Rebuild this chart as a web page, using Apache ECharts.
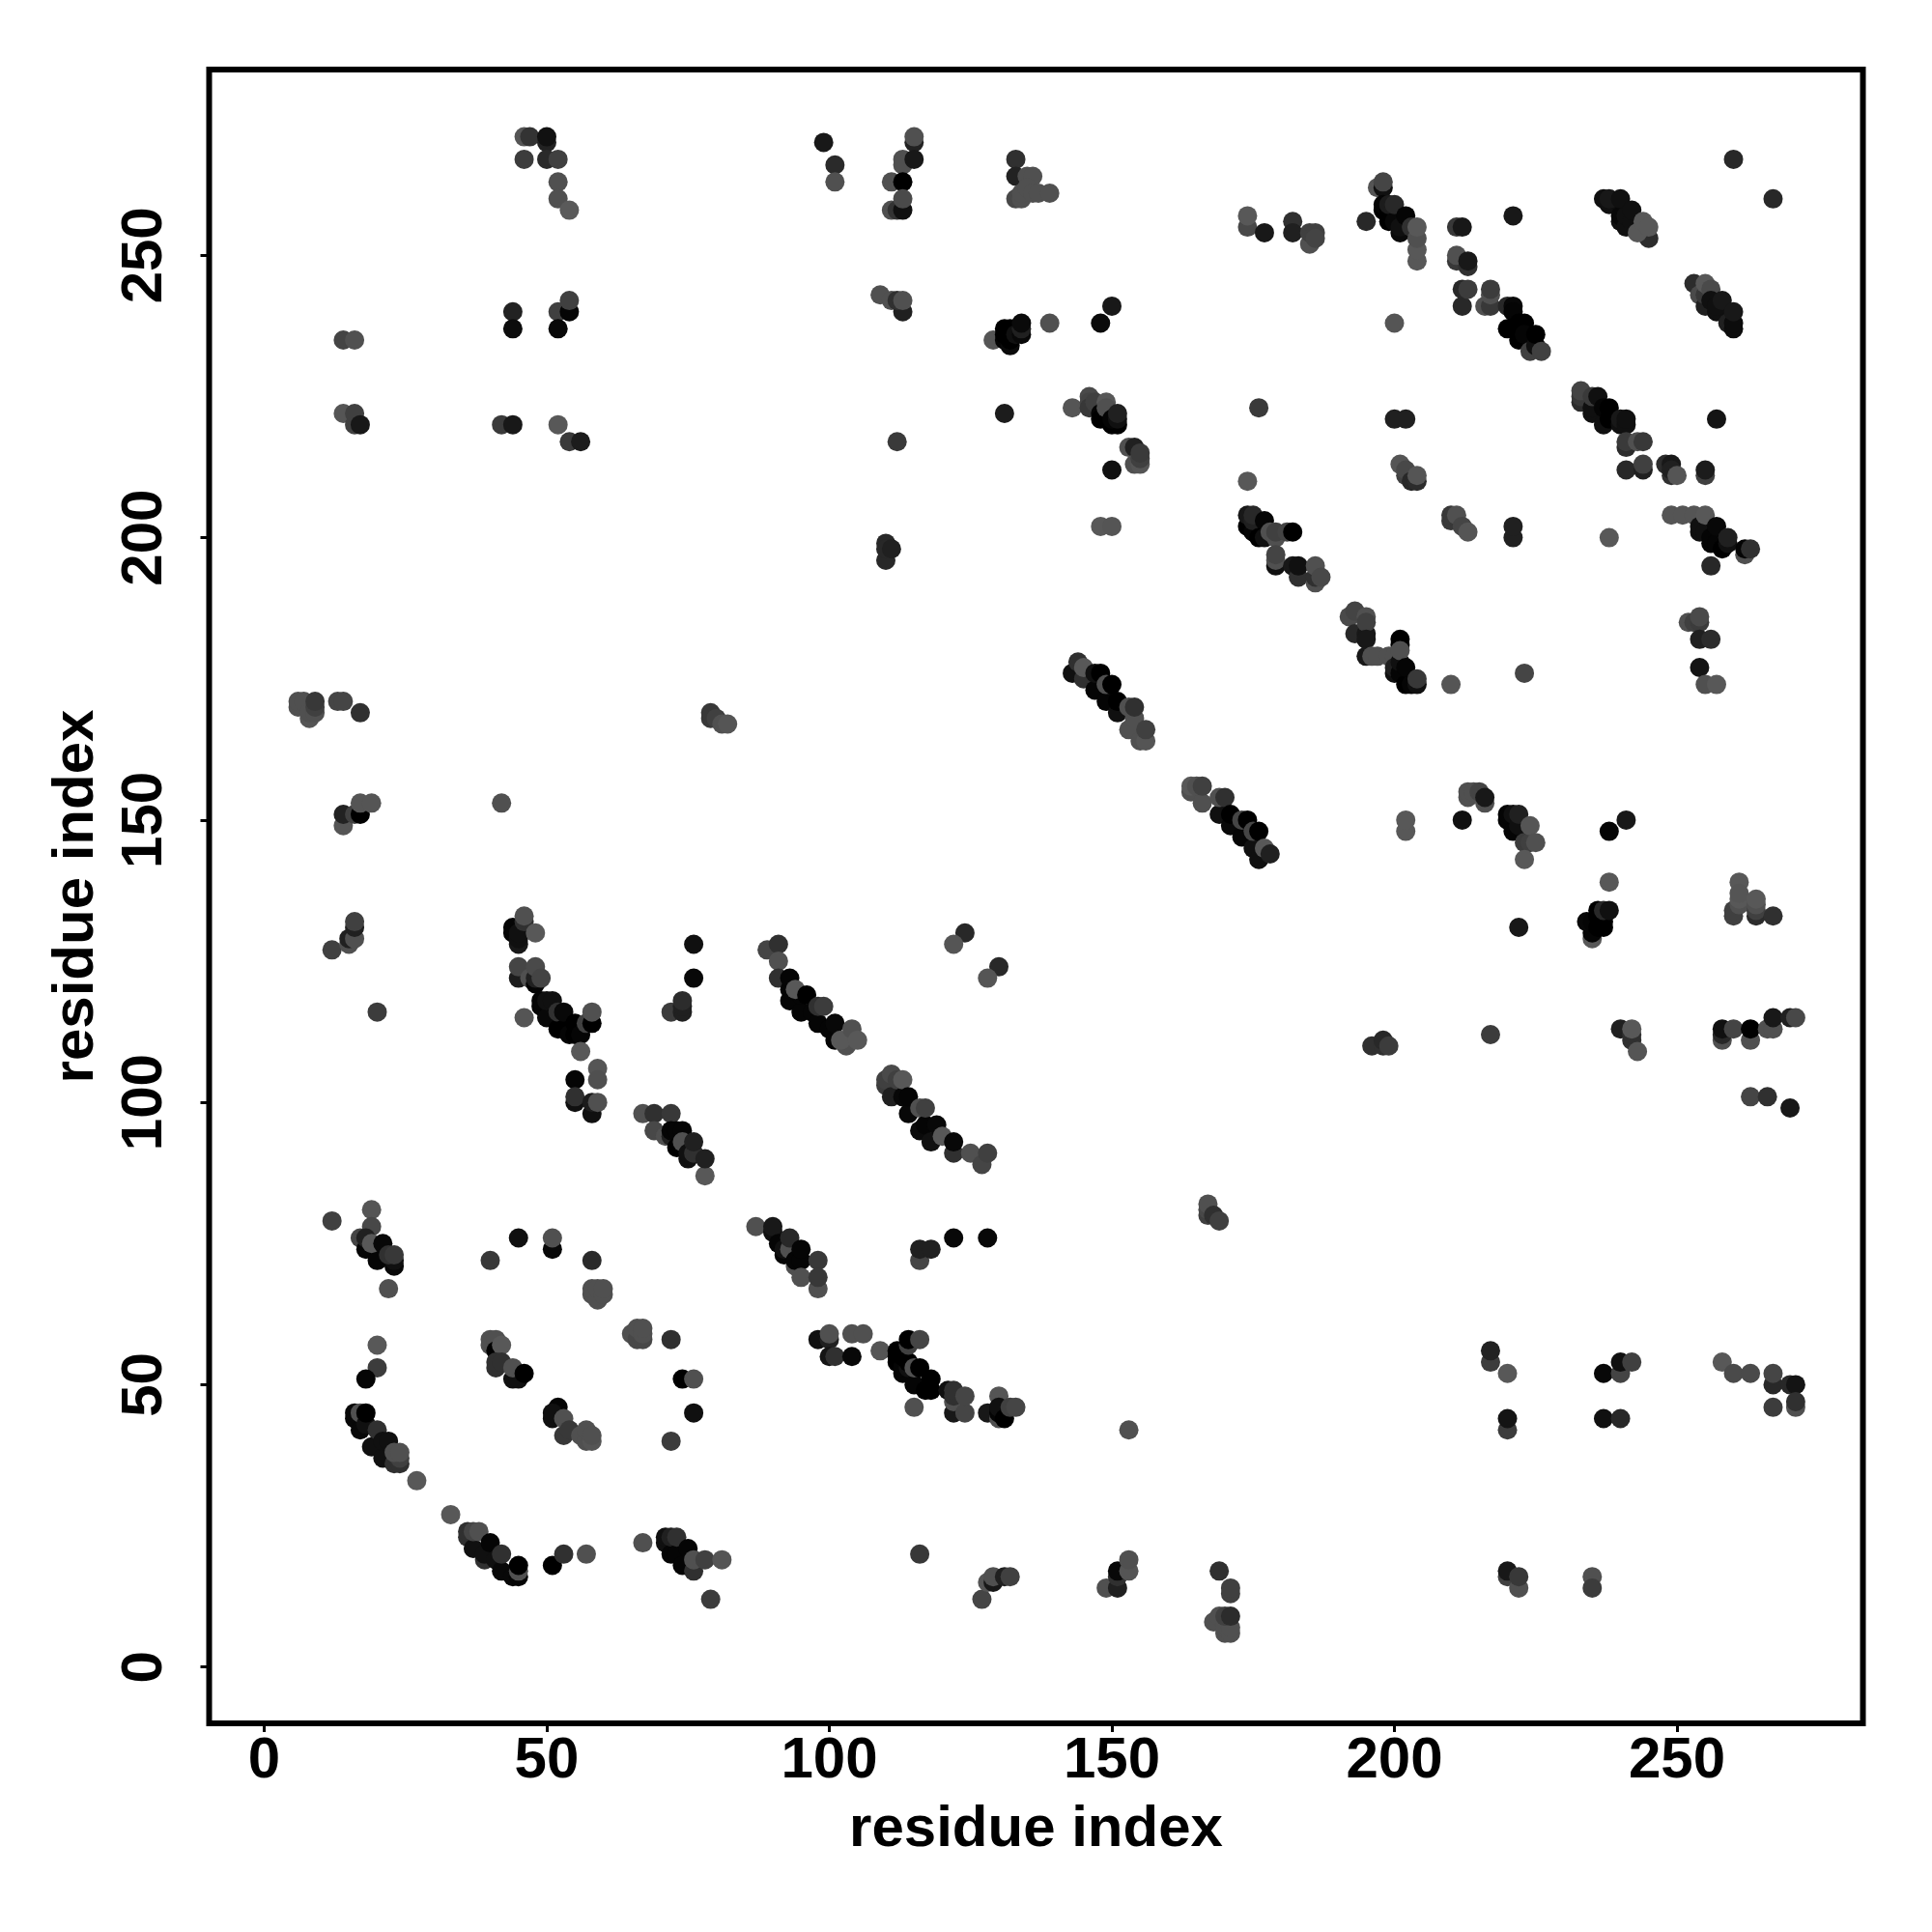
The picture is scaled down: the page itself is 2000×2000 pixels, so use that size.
<!DOCTYPE html>
<html><head><meta charset="utf-8">
<style>html,body{margin:0;padding:0;background:#fff}#c{width:2000px;height:2000px}</style>
<script src="https://cdn.jsdelivr.net/npm/echarts@6/dist/echarts.min.js"></script>
</head><body><div id="c"></div>
<script>
const tickValues = [0, 50, 100, 150, 200, 250];
const axisTitle = 'residue index';
// each contact: [residue i, residue j, grey level]
const topLeft = [[46,271,0x55],[47,271,0x33],[50,270,0x22],[50,271,0x11],[46,267,0x3c],[50,267,0x2a],[52,267,0x40],[52,263,0x50],[52,260,0x50],[54,258,0x5a],
[44,240,0x22],[44,237,0x0c],[52,240,0x40],[54,240,0x05],[54,242,0x40],[52,237,0x08],[14,235,0x44],[16,235,0x50],[14,222,0x55],[16,220,0x40],[16,222,0x40],[17,220,0x18],[42,220,0x3a],[44,220,0x18],[52,220,0x58],[54,217,0x3a],[56,217,0x1c]];
const topMiddle = [[99,270,0x18],[101,266,0x2a],[101,263,0x50],[115,270,0x22],[115,271,0x50],[113,267,0x50],[113,266,0x50],[115,267,0x18],[111,263,0x50],[113,263,0x00],[111,258,0x50],[112,258,0x33],[113,258,0x10],[113,260,0x4a],
[109,243,0x50],[111,242,0x50],[113,240,0x20],[112,242,0x30],[113,242,0x50],
[129,235,0x55],[131,235,0x05],[131,236,0x00],[131,237,0x00],[132,234,0x0a],[132,235,0x00],[132,237,0x00],[133,236,0x10],[134,236,0x08],[134,237,0x20],[134,238,0x0a],[139,238,0x50],[148,238,0x0a],[150,241,0x18],
[133,267,0x30],[133,264,0x22],[135,264,0x50],[136,264,0x50],[133,260,0x48],[134,260,0x50],[134,261,0x50],[135,262,0x50],[136,261,0x50],[137,261,0x50],[139,261,0x50],
[112,217,0x3a],[131,222,0x1c],
[143,223,0x55],[146,225,0x4a],[146,224,0x44],[146,223,0x38],[147,224,0x40],[148,222,0x05],[148,221,0x00],[149,224,0x58],[149,223,0x50],[150,220,0x00],[151,220,0x00],[150,221,0x05],[151,221,0x10],[151,222,0x20],
[153,216,0x50],[154,216,0x20],[154,213,0x50],[155,213,0x55],[155,214,0x40],[155,215,0x3a],[150,212,0x10],[148,202,0x58],[150,202,0x55],[110,196,0x28],[110,199,0x28],[110,198,0x28],[111,198,0x20]];
const topRightChains = [[176,223,0x3a],[174,210,0x58],[174,255,0x48],[174,257,0x58],[177,254,0x18],[182,256,0x30],[182,254,0x20],[185,252,0x50],[185,254,0x40],[186,254,0x40],[186,253,0x44],
[174,202,0x00],[174,204,0x18],[175,201,0x05],[175,203,0x20],[175,204,0x28],[176,200,0x00],[177,200,0x10],[177,203,0x05],[178,201,0x50],[179,200,0x50],[179,201,0x40],[181,201,0x44],[182,201,0x00],
[179,195,0x10],[179,196,0x50],[179,197,0x44],[182,195,0x18],[183,193,0x30],[183,195,0x10],[186,192,0x50],[186,193,0x30],[186,195,0x50],[187,193,0x48],
[197,262,0x55],[198,262,0x10],[198,263,0x45],[195,256,0x28],[198,258,0x00],[198,259,0x05],[199,256,0x00],[199,258,0x00],[199,259,0x1c],[200,256,0x08],[200,259,0x28],[201,254,0x0a],[201,255,0x10],[202,257,0x05],[203,255,0x30],[204,249,0x58],[204,251,0x58],[204,253,0x50],[204,255,0x58],
[211,255,0x38],[212,255,0x18],[221,257,0x18],[211,249,0x38],[211,250,0x50],[213,248,0x30],[213,249,0x18],[212,241,0x28],[212,244,0x28],[213,244,0x3c],[216,241,0x50],[217,241,0x38],[217,243,0x50],[217,244,0x3c],
[220,241,0x28],[221,241,0x08],[221,240,0x05],[220,237,0x00],[222,238,0x00],[222,236,0x00],[222,235,0x00],[223,238,0x00],[223,236,0x05],[224,233,0x40],[225,234,0x10],[225,236,0x00],[226,233,0x40],
[260,267,0x28],[267,260,0x28],
[237,260,0x10],[238,259,0x10],[238,260,0x18],[240,256,0x10],[240,257,0x08],[240,260,0x10],[241,255,0x10],[241,257,0x10],[242,256,0x10],[242,258,0x10],[245,253,0x2c],[243,254,0x58],[244,256,0x58],[245,255,0x58],
[253,245,0x2c],[254,243,0x4a],[255,241,0x20],[255,243,0x38],[255,245,0x58],[256,244,0x4a],[256,242,0x10],[257,240,0x10],[257,241,0x10],[258,242,0x18],[259,238,0x20],[260,237,0x0c],[260,238,0x0c],[260,240,0x18],
[200,221,0x20],[202,221,0x20],[257,221,0x14],[200,238,0x55]];
const rightMiddle = [[233,224,0x2c],[233,225,0x38],[233,226,0x44],[235,222,0x10],[235,223,0x10],[235,225,0x3a],[236,225,0x10],[237,220,0x10],[237,223,0x05],[238,221,0x00],[238,223,0x00],[240,220,0x10],[240,221,0x18],[241,220,0x10],[241,221,0x10],
[241,216,0x2c],[241,217,0x3a],[243,217,0x50],[244,217,0x38],[241,212,0x28],[244,212,0x20],[244,213,0x40],[248,213,0x2c],[249,213,0x18],[249,211,0x30],[249,212,0x20],[250,211,0x55],[255,211,0x40],[255,212,0x1c],
[201,213,0x55],[202,211,0x40],[202,212,0x48],[203,210,0x28],[204,210,0x2c],[204,211,0x55],[210,203,0x38],[210,204,0x38],[211,204,0x50],[212,202,0x45],[213,201,0x55],[221,200,0x20],[221,202,0x20],[238,200,0x58],
[249,204,0x55],[251,204,0x55],[253,204,0x55],[254,201,0x10],[254,202,0x10],[255,201,0x10],[255,204,0x58],[256,199,0x05],[256,200,0x05],[257,199,0x05],[257,202,0x08],[258,198,0x00],[259,199,0x10],[259,200,0x20],[262,197,0x50],[262,198,0x05],[263,198,0x30],[256,195,0x28],
[192,186,0x4a],[193,187,0x44],[195,186,0x50],[193,183,0x28],[195,183,0x18],[195,185,0x40],[195,182,0x18],[201,181,0x00],[201,182,0x00],[252,185,0x50],[253,185,0x40],[254,185,0x3c],[254,186,0x4a],[254,182,0x20],[256,182,0x2c]];
const centreRight = [[195,179,0x18],[196,179,0x50],[197,179,0x50],[199,179,0x50],[200,179,0x50],[200,176,0x10],[200,177,0x20],[201,176,0x05],[201,178,0x10],[201,180,0x50],[202,174,0x00],[202,177,0x05],[203,174,0x05],[204,174,0x10],[204,175,0x38],
[210,174,0x55],[223,176,0x45],[254,177,0x14],[255,174,0x50],[257,174,0x58],
[213,154,0x50],[213,155,0x50],[214,155,0x50],[215,155,0x44],[216,153,0x50],[216,154,0x18],[212,150,0x10],[202,148,0x58],[202,150,0x58],
[220,150,0x05],[220,151,0x05],[221,148,0x05],[221,151,0x10],[222,149,0x10],[222,151,0x20],[223,146,0x3c],[224,146,0x40],[224,149,0x55],[225,146,0x50],[223,143,0x58],
[238,148,0x05],[241,150,0x18],[238,139,0x58],[222,131,0x18],
[235,129,0x58],[235,130,0x05],[234,132,0x08],[235,132,0x05],[236,131,0x00],[236,133,0x00],[236,134,0x00],[237,131,0x00],[237,132,0x00],[237,134,0x28],[238,134,0x10],
[261,139,0x58],[260,133,0x40],[260,134,0x40],[261,135,0x50],[261,136,0x58],[261,137,0x55],[264,133,0x2c],[264,134,0x40],[264,135,0x50],[264,136,0x58],[267,133,0x30],
[217,112,0x3c],[196,110,0x30],[198,110,0x30],[198,111,0x28],[199,110,0x3c],
[240,113,0x20],[242,111,0x30],[242,112,0x30],[242,113,0x58],[243,109,0x55],
[258,111,0x50],[258,112,0x28],[258,113,0x10],[260,113,0x44],[263,111,0x50],[263,113,0x00],[266,113,0x50],[267,113,0x50],[267,115,0x18],[270,115,0x20],[271,115,0x48],[263,101,0x45],[266,101,0x30],[270,99,0x18]];
const leftMiddle = [[6,170,0x50],[6,171,0x50],[7,171,0x50],[8,168,0x55],[8,169,0x50],[9,169,0x50],[9,170,0x40],[9,171,0x38],[13,171,0x45],[14,171,0x45],[17,169,0x30],
[79,168,0x38],[79,169,0x38],[80,168,0x40],[81,167,0x50],[82,167,0x55],
[14,149,0x55],[14,151,0x22],[16,151,0x40],[17,151,0x00],[17,153,0x55],[19,153,0x55],[42,153,0x50],
[12,127,0x40],[15,128,0x50],[15,129,0x20],[16,129,0x50],[16,131,0x20],[16,132,0x40],[20,116,0x3c],
[44,130,0x05],[44,131,0x05],[45,128,0x18],[45,129,0x10],[45,130,0x10],[46,132,0x30],[46,133,0x50],[48,130,0x58],
[45,122,0x1c],[45,124,0x45],[47,122,0x50],[48,121,0x05],[48,122,0x20],[48,124,0x4a],[49,122,0x44],
[46,115,0x55],[49,117,0x05],[49,118,0x05],[50,115,0x08],[50,118,0x10],[51,118,0x10],[52,113,0x00],[52,116,0x30],[53,113,0x00],[53,116,0x08],[54,112,0x05],[55,112,0x00],[55,114,0x00],[56,112,0x05],[57,114,0x40],[58,114,0x00],[58,116,0x50],[56,109,0x58],
[59,106,0x55],[59,104,0x50],[55,104,0x05],[55,100,0x10],[55,101,0x30],[58,98,0x10],[58,100,0x1c],[59,100,0x50],
[76,128,0x10],[76,122,0x08],[72,116,0x3c],[74,116,0x20],[74,117,0x20],[74,118,0x2c],
[67,98,0x50],[69,98,0x30],[72,98,0x38],[69,95,0x48],[71,94,0x50],[72,94,0x20],[72,95,0x05],[73,92,0x00],[73,95,0x05],[74,95,0x05],[74,93,0x50],[75,90,0x10],[75,91,0x10],[76,91,0x30],[76,93,0x20],[78,87,0x58],[78,90,0x20]];
const centreChains = [[89,127,0x44],[91,128,0x30],[91,125,0x50],[91,122,0x30],[93,118,0x05],[93,120,0x05],[93,122,0x05],[95,116,0x05],[95,119,0x05],[94,120,0x58],[96,119,0x00],[97,116,0x05],[98,114,0x05],[98,117,0x30],[99,117,0x3c],[100,113,0x05],[101,111,0x05],[101,114,0x08],[103,110,0x50],[102,111,0x58],[104,113,0x50],[105,111,0x58],
[110,103,0x3c],[110,104,0x40],[111,101,0x20],[111,105,0x4a],[112,104,0x40],[113,101,0x08],[113,104,0x58],[114,98,0x08],[114,101,0x05],[116,95,0x0a],[116,99,0x50],[117,96,0x05],[117,99,0x40],[118,93,0x10],[119,96,0x08],[120,94,0x58],[122,91,0x30],[122,93,0x08],[125,91,0x50],[127,89,0x45],[128,91,0x40],
[124,130,0x28],[122,128,0x55],[130,124,0x28],[128,122,0x55],
[143,176,0x10],[144,178,0x30],[145,175,0x30],[145,177,0x58],[147,173,0x05],[147,176,0x10],[148,176,0x00],[149,171,0x05],[149,174,0x50],[150,174,0x00],[151,169,0x10],[151,171,0x00],[153,166,0x50],[153,170,0x50],[154,168,0x50],[154,170,0x30],[155,164,0x50],[156,164,0x55],[156,166,0x40],
[164,155,0x50],[164,156,0x58],[165,156,0x50],[166,153,0x50],[166,156,0x40],[169,151,0x10],[169,154,0x50],[170,154,0x30],[171,149,0x08],[171,151,0x00],[173,147,0x05],[173,150,0x45],[174,150,0x00],[175,145,0x10],[175,148,0x45],[176,143,0x10],[176,148,0x00],[177,145,0x58],[178,144,0x20]];
const bottomLeft = [[12,79,0x40],[19,81,0x55],[19,78,0x48],[17,76,0x45],[18,74,0x05],[18,76,0x20],[20,72,0x05],[19,75,0x58],[21,75,0x08],[23,71,0x08],[23,72,0x10],[22,73,0x30],[23,73,0x38],[22,67,0x50],
[45,76,0x10],[40,72,0x38],[51,74,0x08],[51,76,0x50],[58,72,0x2a],[58,66,0x50],[58,67,0x50],[59,65,0x50],[59,67,0x50],[60,66,0x50],[60,67,0x50],
[65,59,0x50],[66,58,0x48],[67,58,0x48],[66,60,0x50],[67,59,0x50],[67,60,0x50],[72,58,0x30],[74,51,0x00],[76,51,0x50],[76,45,0x10],[72,40,0x3c],
[20,57,0x58],[20,53,0x3c],[18,51,0x05],
[16,44,0x08],[16,45,0x08],[17,42,0x08],[17,45,0x50],[18,43,0x10],[18,45,0x00],[19,39,0x10],[20,42,0x30],[21,37,0x10],[21,40,0x10],[22,40,0x10],[23,36,0x30],[24,36,0x30],[24,37,0x40],[23,38,0x50],[24,38,0x50],[27,33,0x58],[33,27,0x58],
[36,23,0x30],[36,24,0x30],[37,21,0x10],[37,24,0x45],[38,24,0x50],[39,19,0x30],[39,20,0x10],[40,22,0x05],[41,19,0x10],[42,17,0x08],[42,20,0x30],[44,16,0x08],[45,16,0x05],[45,17,0x50],[45,18,0x00],
[40,57,0x50],[40,58,0x50],[41,58,0x50],[41,56,0x00],[42,57,0x58],[41,53,0x30],[41,54,0x30],[42,54,0x30],[44,51,0x10],[45,51,0x10],[44,53,0x50],[46,52,0x00],
[52,46,0x05],[51,44,0x10],[51,45,0x10],[53,41,0x38],[53,44,0x50],[54,42,0x38],[56,41,0x50],[57,40,0x50],[57,42,0x50],[58,40,0x55],[58,41,0x50],
[51,18,0x00],[53,20,0x30],[57,20,0x50],[67,22,0x50],
[71,22,0x10],[71,23,0x10],[72,20,0x05],[72,23,0x20],[73,20,0x05],[73,23,0x30],[74,18,0x05],[75,21,0x05],[76,17,0x30],[76,19,0x50],[78,19,0x40],[81,19,0x55],[79,12,0x3c]];
const bottomMiddle = [[87,78,0x50],[90,77,0x10],[90,78,0x18],[91,75,0x05],[92,73,0x05],[92,74,0x10],[93,74,0x50],[93,76,0x28],[94,71,0x50],[94,72,0x05],[95,72,0x05],[95,74,0x05],[95,69,0x50],[98,72,0x38],[98,67,0x50],[98,69,0x38],
[116,72,0x45],[116,74,0x20],[118,74,0x20],[122,76,0x08],[128,76,0x08],
[167,80,0x40],[167,81,0x48],[167,82,0x50],[168,80,0x30],[169,79,0x40],
[98,58,0x10],[100,58,0x20],[100,59,0x50],[100,55,0x15],[101,55,0x30],[104,55,0x08],[104,59,0x50],[106,59,0x50],[109,56,0x55],
[112,54,0x00],[112,55,0x00],[112,56,0x00],[113,52,0x05],[113,53,0x05],[113,55,0x00],[114,53,0x10],[114,54,0x00],[114,57,0x40],[114,58,0x00],[116,58,0x45],[115,50,0x05],[115,53,0x50],[116,53,0x00],[117,49,0x00],[118,49,0x00],[118,51,0x00],[115,46,0x50],
[121,49,0x10],[122,45,0x18],[122,47,0x50],[122,48,0x30],[122,49,0x30],[124,45,0x45],[124,48,0x45],
[130,48,0x55],[128,45,0x18],[130,44,0x50],[130,45,0x05],[130,46,0x10],[131,44,0x00],[132,46,0x40],[133,46,0x45],
[153,42,0x50],[116,20,0x38],[127,12,0x45],[128,15,0x55],[129,15,0x18],[129,16,0x50],[131,16,0x20],[132,16,0x40],
[149,14,0x50],[151,14,0x20],[151,16,0x30],[151,17,0x08],[153,17,0x55],[153,19,0x50],
[169,17,0x30],[171,13,0x40],[171,14,0x40],[168,8,0x50],[169,9,0x50],[170,6,0x50],[170,7,0x50],[171,6,0x50],[171,7,0x50],[170,9,0x40],[171,9,0x2c]];
const bottomRight = [[217,54,0x3c],[217,56,0x22],[220,52,0x58],[220,42,0x3c],[220,44,0x14],[237,52,0x08],[240,52,0x44],[240,54,0x10],[242,54,0x40],[237,44,0x10],[240,44,0x28],
[258,54,0x58],[260,52,0x4a],[263,52,0x4a],[267,50,0x28],[267,52,0x45],[270,50,0x28],[271,50,0x14],[271,46,0x50],[271,47,0x30],[267,46,0x3c],
[220,16,0x40],[220,17,0x18],[222,14,0x50],[222,16,0x38],[235,16,0x50],[235,14,0x3c]];

const contacts = [].concat(topLeft, topMiddle, topRightChains, rightMiddle, centreRight, leftMiddle, centreChains, bottomLeft, bottomMiddle, bottomRight);

const font = 'Liberation Sans';
const textStyle = {fontFamily: font, fontWeight: 'bold', fontSize: 60, color: '#000'};
function axis(min, max, rotate, gap, nameRotate, margin) {
  return {
    type: 'value', min, max, nameLocation: 'middle', name: axisTitle, nameGap: gap, nameRotate,
    nameTextStyle: textStyle, splitLine: {show: false},
    axisLine: {show: false, onZero: false},
    axisTick: {show: true, length: 9, inside: false, customValues: tickValues, lineStyle: {color: '#000', width: 3}},
    axisLabel: {...textStyle, rotate, margin, customValues: tickValues, hideOverlap: false, showMinLabel: true, showMaxLabel: true}
  };
}
const chart = echarts.init(document.getElementById('c'), null, {renderer: 'canvas', width: 2000, height: 2000});
chart.setOption({
  animation: false, backgroundColor: '#fff',
  grid: {left: 216.5, right: 71.5, top: 72, bottom: 216, show: true, borderColor: '#000', borderWidth: 6, backgroundColor: '#fff', z: 0},
  xAxis: axis(-9.74, 282.9, 0, 80, 0, 9),
  yAxis: axis(-9.97, 282.9, 90, 107, 90, 36),
  series: [{
    type: 'scatter', symbol: 'circle', symbolSize: 20, large: false, progressive: 0, silent: true, z: 3,
    data: contacts,
    itemStyle: {opacity: 1, color: p => { const g = p.value[2]; return `rgb(${g},${g},${g})`; }}
  }]
});
</script></body></html>
